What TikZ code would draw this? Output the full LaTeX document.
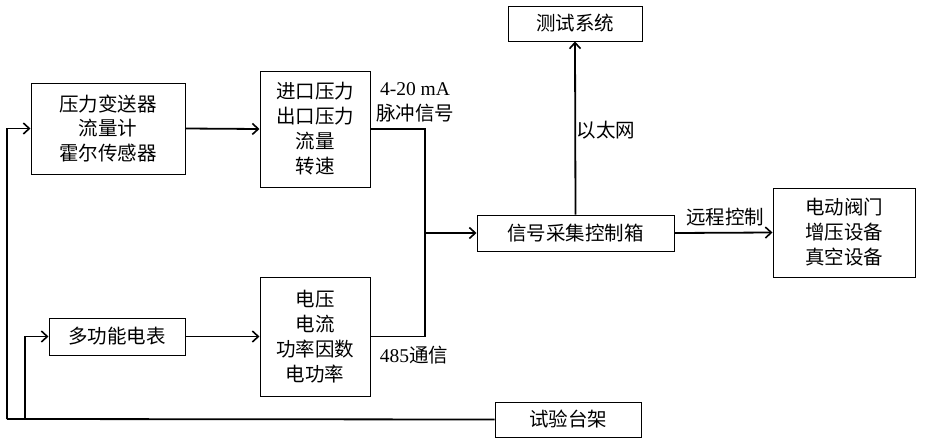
\documentclass[tikz,border=0pt]{standalone}
\usepackage{fontspec}
\setmainfont{Liberation Serif}
\newfontfamily\cjk{Noto Sans CJK SC}
\usetikzlibrary{arrows.meta}
\tikzset{
  blk/.style={draw,line width=1pt,inner sep=0pt,align=center,
    font=\cjk\fontsize{19.5}{25}\selectfont},
  wire/.style={line width=1.8pt},
  arr/.style={wire,-{Straight Barb[length=6pt,width=11pt,line width=1.6pt]}},
  lbl/.style={inner sep=0pt,align=center,font=\fontsize{19.5}{25}\selectfont}
}
\begin{document}
\begin{tikzpicture}[x=1pt,y=-1pt]
\useasboundingbox (0,0) rectangle (946,442);
% boxes
\node [blk,minimum width=154pt,minimum height=91pt] (sens) at (108,128.5) {压力变送器\\流量计\\霍尔传感器};
\node [blk,minimum width=110pt,minimum height=116pt] (inp) at (315,129) {进口压力\\出口压力\\流量\\转速};
\node [blk,minimum width=136pt,minimum height=37pt] (meter) at (117,336.5) {多功能电表};
\node [blk,minimum width=110pt,minimum height=119pt] (elec) at (315,336.5) {电压\\电流\\功率因数\\电功率};
\node [blk,minimum width=197pt,minimum height=36pt] (ctrl) at (575.5,233) {信号采集控制箱};
\node [blk,minimum width=134pt,minimum height=35pt] (test) at (575,23.5) {测试系统};
\node [blk,minimum width=142pt,minimum height=89pt] (act) at (844,232.5) {电动阀门\\增压设备\\真空设备};
\node [blk,minimum width=146pt,minimum height=35pt] (rig) at (568,419.5) {试验台架};
% corners of the wires
\coordinate (jn) at (425,233);
\coordinate (lp) at (7,419);
\coordinate (lq) at (25,419);
% connectors
\draw [wire] (rig.west) -- (lp);
\draw [arr] (lp) |- (sens.west);
\draw [arr] (lq) |- (meter.west);
\draw [arr] (sens.east) -- (inp.west);
\draw [arr] (meter.east) -- (elec.west);
\draw [wire] (inp.east) -| (jn);
\draw [wire] (elec.east) -| (jn);
\draw [arr] (jn) -- (ctrl.west);
\draw [arr] (ctrl.north) -- (test.south);
\draw [arr] (ctrl.east) -- (act.west);
% labels
\node [lbl] (sig) at (415,102.5) {4-20 mA\\{\cjk 脉冲信号}};
\node [lbl] (com) at (414,355) {485{\cjk 通信}};
\node [lbl,font=\cjk\fontsize{19.5}{25}\selectfont] (eth) at (606,130) {以太网};
\node [lbl,font=\cjk\fontsize{19.5}{25}\selectfont] (rem) at (725,217) {远程控制};
\end{tikzpicture}
\end{document}
